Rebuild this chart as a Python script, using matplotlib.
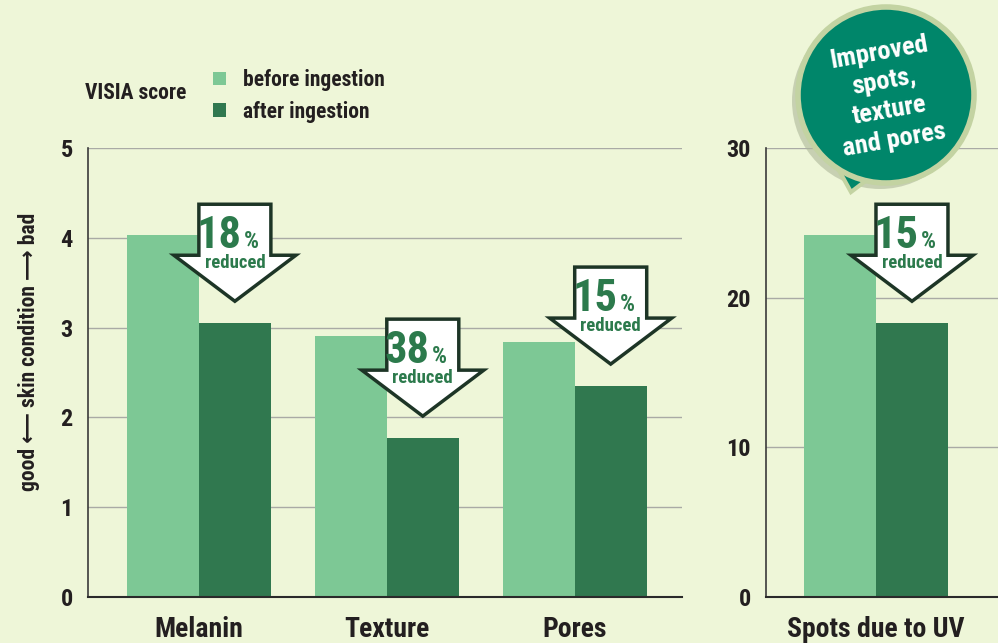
import matplotlib
matplotlib.use('Agg')
import matplotlib.pyplot as plt
import matplotlib.patches as mpatches
import matplotlib.transforms as mtransforms
from matplotlib import font_manager

# data
categories = ['Melanin', 'Texture', 'Pores']
before = [4.03, 2.91, 2.84]
after = [3.05, 1.77, 2.35]
reduced = ['18', '38', '15']

uv_categories = ['Spots due to UV']
uv_before = [24.2]
uv_after = [18.3]
uv_reduced = ['15']

installed = {f.name for f in font_manager.fontManager.ttflist}
narrow = next((n for n in ['Roboto Condensed', 'Liberation Sans Narrow', 'Roboto']
               if n in installed), 'DejaVu Sans')
plt.rcParams['font.family'] = [narrow, 'DejaVu Sans']
plt.rcParams['font.weight'] = 'bold'

bg = '#eef6d8'
light = '#7dc895'
dark = '#30784f'
ink = '#231f20'
green_txt = '#2c7a4c'
w = 0.383

fig = plt.figure(figsize=(9.98, 6.43), dpi=100)
fig.patch.set_facecolor(bg)
ax1 = fig.add_axes([0.0882, 0.0715, 0.595, 0.698])
ax2 = fig.add_axes([0.7675, 0.0715, 0.2325, 0.698])


def style(ax, top, step):
    ax.set_facecolor(bg)
    ax.set_ylim(0, top)
    ax.set_yticks(range(0, top + 1, step))
    ax.grid(axis='y', color='#a9aaa5', lw=1)
    ax.set_axisbelow(True)
    for s in ['top', 'right']:
        ax.spines[s].set_visible(False)
    ax.spines['left'].set_color('#3a3a3a')
    ax.spines['bottom'].set_color('#2a2a2a')
    ax.spines['left'].set_linewidth(1.2)
    ax.spines['bottom'].set_linewidth(1.5)
    ax.tick_params(axis='y', length=0, pad=11, labelsize=17.5, labelcolor=ink)
    ax.tick_params(axis='x', length=0, pad=14, labelsize=20, labelcolor=ink)


def down_arrow(ax, x, y, pct):
    # white block arrow pointing at the "after" bar
    shape = [(0, 0), (-61, 46), (-36, 46), (-36, 97), (36, 97), (36, 46), (61, 46)]
    tr = mtransforms.Affine2D().translate(0, 22) + mtransforms.ScaledTranslation(x, y, ax.transData)
    ax.add_patch(mpatches.Polygon(shape, closed=True, transform=tr, facecolor='white',
                                  edgecolor='#1d3526', lw=2.5, clip_on=False, zorder=5))
    off = lambda dx, dy: mtransforms.offset_copy(ax.transData, fig, x=dx, y=dy, units='dots')
    ax.text(x, y, pct, transform=off(7, 75), ha='right', va='baseline', fontsize=32,
            color=green_txt, zorder=6)
    ax.text(x, y, '%', transform=off(9, 75), ha='left', va='baseline', fontsize=17,
            color=green_txt, zorder=6)
    ax.text(x, y, 'reduced', transform=off(0, 55), ha='center', va='baseline', fontsize=13.5,
            color=green_txt, zorder=6)


# left panel
xs = range(len(categories))
b1 = ax1.bar([x - w / 2 for x in xs], before, w, color=light, label='before ingestion')
b2 = ax1.bar([x + w / 2 for x in xs], after, w, color=dark, label='after ingestion')
style(ax1, 5, 1)
ax1.set_xlim(-0.59, 2.57)
ax1.set_xticks(list(xs))
ax1.set_xticklabels(categories)
for x, v, p in zip(xs, after, reduced):
    down_arrow(ax1, x + w / 2, v, p)

# right panel
ax2.bar([-w / 2], uv_before, w, color=light)
ax2.bar([w / 2], uv_after, w, color=dark)
style(ax2, 30, 10)
ax2.set_xlim(-0.585, 0.649)
ax2.set_xticks([0])
ax2.set_xticklabels(uv_categories)
down_arrow(ax2, w / 2, uv_after[0], uv_reduced[0])

# legend and labels
ax1.legend(handles=[b1, b2], loc='upper left', bbox_to_anchor=(213 / 998, 1 - 69 / 643),
           bbox_transform=fig.transFigure, frameon=False, borderpad=0, borderaxespad=0,
           handlelength=0.6, handleheight=0.6, handletextpad=0.8, labelspacing=0.45,
           prop={'size': 15.5, 'weight': 'bold'}, labelcolor=ink)
fig.text(85 / 998, 1 - 93 / 643, 'VISIA score', ha='left', va='center', fontsize=15.5, color=ink)
fig.text(29 / 998, 1 - 352 / 643, 'good \u27f5 skin condition \u27f6 bad', rotation=90,
         ha='center', va='center', fontsize=15.5, color=ink)

# speech bubble
shadow = mpatches.Ellipse((880 / 998, 1 - 101 / 643), 176 / 998, 176 / 643, transform=fig.transFigure,
                          facecolor='#aeb89a', edgecolor='none', alpha=0.6, zorder=9)
tail = mpatches.Polygon([(836 / 998, 1 - 165 / 643), (851 / 998, 1 - 192 / 643),
                         (872 / 998, 1 - 176 / 643)], closed=True, transform=fig.transFigure,
                        facecolor='#00866a', edgecolor='#c3d3a2', lw=3, zorder=10)
bubble = mpatches.Ellipse((886 / 998, 1 - 95 / 643), 176 / 998, 176 / 643, transform=fig.transFigure,
                          facecolor='#00866a', edgecolor='#c3d3a2', lw=4, zorder=11)
fig.patches.extend([shadow, tail, bubble])
fig.text(887 / 998, 1 - 96 / 643, 'Improved\nspots,\ntexture\nand pores', rotation=10,
         ha='center', va='center', multialignment='center', linespacing=1.3,
         fontsize=19, color='white', zorder=12)

fig.savefig('out.png', dpi=100, facecolor=bg)
